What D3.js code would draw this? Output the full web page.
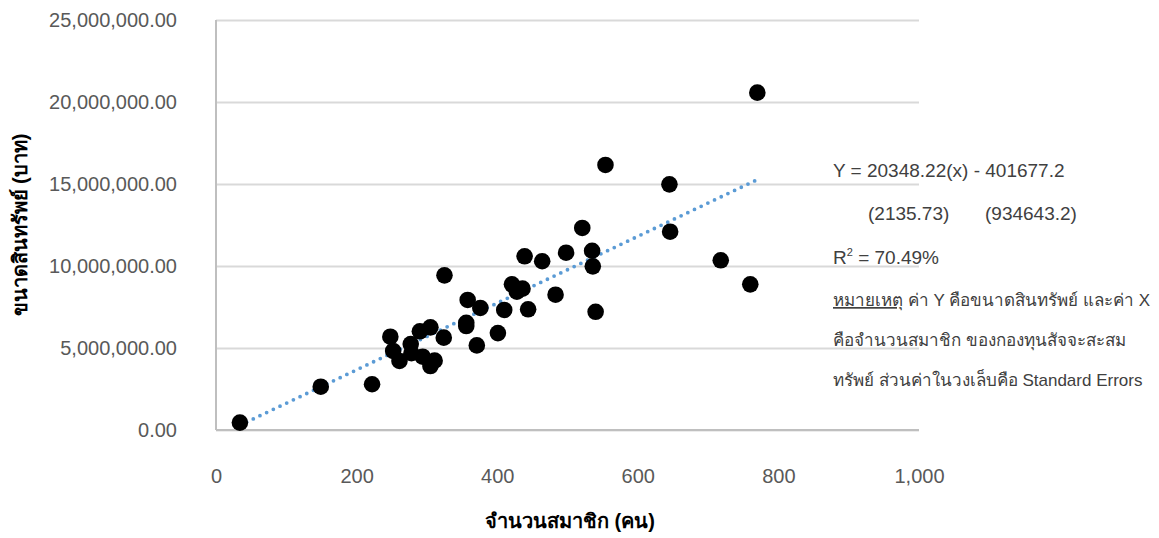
<!DOCTYPE html>
<meta charset="utf-8">
<html>
<head>
  <script src="https://d3js.org/d3.v7.min.js"></script>
  <style>
    body { margin: 0; background: #fff; }
    svg { font-family: 'Liberation Sans', Arial, 'Noto Sans', 'DejaVu Sans', sans-serif; }
    .tick text { fill: #595959; font-size: 20px; }
    .x-axis path, .y-axis path { stroke: #bfbfbf; stroke-width: 2; }
    .x-axis line, .y-axis line { display: none; }
    .grid line { stroke: #d9d9d9; stroke-width: 2; }
    .grid path { display: none; }
    .axis-title { font-weight: bold; font-size: 20px; fill: #000; }
    .note { font-size: 19px; fill: #404040; }
    .note.thai { font-size: 17px; }
  </style>
</head>
<body>
<script>
  // member count per fund (x) and fund assets in baht (y)
  var members = [34, 149, 222, 248, 252, 261, 277, 278, 290, 294,
    305, 305, 311, 325, 324, 358, 356, 356, 371, 376,
    401, 410, 421, 428, 436, 444, 439, 464, 483, 498,
    535, 536, 540, 554, 645, 646, 770, 718, 760, 521];
  var assets = [450000, 2640000, 2790000, 5690000, 4820000, 4210000, 5240000, 4680000, 6020000, 4470000,
    6260000, 3900000, 4230000, 9430000, 5630000, 7930000, 6540000, 6340000, 5160000, 7440000,
    5910000, 7320000, 8880000, 8430000, 8620000, 7360000, 10590000, 10290000, 8250000, 10810000,
    10930000, 9980000, 7210000, 16160000, 14980000, 12090000, 20570000, 10350000, 8880000, 12320000];

  var xTicks = [0, 200, 400, 600, 800, 1000];
  var yTicks = [0, 5000000, 10000000, 15000000, 20000000, 25000000];

  // fitted line from the annotation
  var slope = 20348.22, intercept = -401677.2;

  var noteLines = [
    "Y = 20348.22(x) - 401677.2",
    "(2135.73)",
    "(934643.2)",
    "= 70.49%",
    "ค่า Y คือขนาดสินทรัพย์ และค่า X",
    "คือจำนวนสมาชิก ของกองทุนสัจจะสะสม",
    "ทรัพย์ ส่วนค่าในวงเล็บคือ Standard Errors"
  ];

  var m = { top: 20, right: 240, bottom: 108, left: 216 },
    W = 1159, H = 538,
    w = W - m.left - m.right,
    h = H - m.top - m.bottom;

  var svg = d3.select("body").append("svg")
    .attr("width", W).attr("height", H);
  var g = svg.append("g").attr("transform", `translate(${m.left},${m.top})`);

  var x = d3.scaleLinear().domain([0, 1000]).range([0, 703]);
  var y = d3.scaleLinear().domain([0, 25000000]).range([h, 0]);

  //gridlines
  g.append("g").attr("class", "grid")
    .call(d3.axisLeft(y).tickValues(yTicks).tickSize(-703).tickFormat(""));

  //axes
  g.append("g").attr("class", "y-axis")
    .call(d3.axisLeft(y).tickValues(yTicks).tickSizeOuter(0).tickPadding(33)
      .tickFormat(d3.format(",.2f")));
  g.select(".y-axis path").attr("d", `M0,${h}V0`);

  g.append("g").attr("class", "x-axis")
    .attr("transform", `translate(0,${h})`)
    .call(d3.axisBottom(x).tickValues(xTicks).tickSizeOuter(0).tickPadding(33)
      .tickFormat(d3.format(",")));
  g.select(".x-axis path").attr("d", `M0,0H703`);

  //trend line
  var xr = d3.extent(members);
  g.append("line")
    .attr("x1", x(xr[0])).attr("y1", y(slope * xr[0] + intercept))
    .attr("x2", x(xr[1])).attr("y2", y(slope * xr[1] + intercept))
    .attr("stroke", "#5b9bd5").attr("stroke-width", 3.8)
    .attr("stroke-linecap", "round").attr("stroke-dasharray", "0 7.4");

  //points
  g.selectAll("circle.pt")
    .data(members)
    .enter().append("circle")
    .attr("class", "pt")
    .attr("cx", (d, i) => x(d))
    .attr("cy", (d, i) => y(assets[i]))
    .attr("r", 8.3)
    .attr("fill", "#000");

  //axis titles
  svg.append("text").attr("class", "axis-title")
    .attr("x", 570).attr("y", 528).attr("text-anchor", "middle")
    .text("จำนวนสมาชิก (คน)");
  svg.append("text").attr("class", "axis-title")
    .attr("transform", "translate(27,225) rotate(-90)")
    .attr("text-anchor", "middle")
    .text("ขนาดสินทรัพย์ (บาท)");

  //annotation
  var notes = svg.append("g").attr("class", "note");
  notes.append("text").attr("class", "note").attr("x", 833).attr("y", 177).text(noteLines[0]);
  notes.append("text").attr("class", "note").attr("x", 868).attr("y", 220).text(noteLines[1]);
  notes.append("text").attr("class", "note").attr("x", 985).attr("y", 220).text(noteLines[2]);
  var r2 = notes.append("text").attr("class", "note").attr("x", 833).attr("y", 264);
  r2.append("tspan").text("R");
  r2.append("tspan").attr("dy", -8).attr("font-size", 11).text("2");
  r2.append("tspan").attr("dy", 8).text(" " + noteLines[3]);
  var n1 = notes.append("text").attr("class", "note thai").attr("x", 833).attr("y", 306);
  n1.append("tspan").attr("text-decoration", "underline").text("หมายเหตุ");
  n1.append("tspan").text(" " + noteLines[4]);
  notes.append("text").attr("class", "note thai").attr("x", 833).attr("y", 346).text(noteLines[5]);
  notes.append("text").attr("class", "note thai").attr("x", 833).attr("y", 386).text(noteLines[6]);
</script>
</body>
</html>
